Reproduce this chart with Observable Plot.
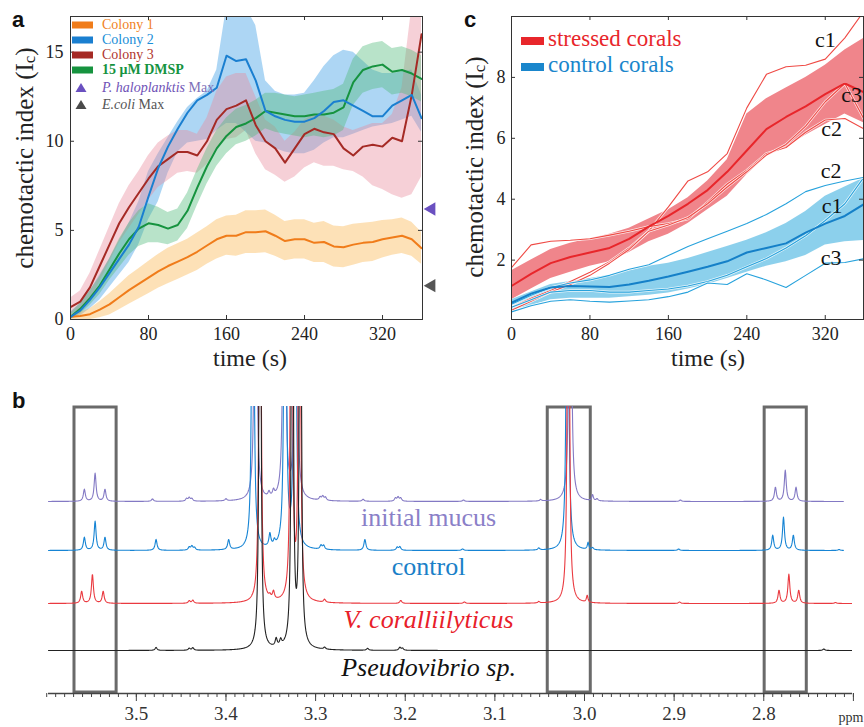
<!DOCTYPE html>
<html>
<head>
<meta charset="utf-8">
<script src="https://cdn.jsdelivr.net/npm/d3@7"></script>
<script src="https://cdn.jsdelivr.net/npm/@observablehq/plot@0.6"></script>
<style>
  html,body{margin:0;padding:0;background:#fff;}
  #wrap{position:relative;width:864px;height:727px;overflow:hidden;background:#fff;}
  #wrap svg{position:absolute;}
</style>
</head>
<body>
<div id="wrap"></div>
<script>
// ================= PANEL a : chemotactic index vs time =================
const timeA = [0,10,20,30,40,50,60,70,80,90,100,110,120,130,140,150,160,170,180,190,200,210,220,230,240,250,260,270,280,290,300,310,320,330,340,350,360];
const colony1Mean  = [0.15,0.2,0.3,0.55,0.85,1.25,1.65,2.0,2.35,2.7,3.0,3.25,3.5,3.8,4.15,4.5,4.7,4.7,4.9,4.9,4.95,4.7,4.4,4.5,4.5,4.3,4.35,4.1,4.05,4.2,4.3,4.35,4.5,4.6,4.7,4.5,4.0];
const colony1Lower = [0.0,0.0,0.0,0.1,0.25,0.55,0.85,1.15,1.45,1.75,2.0,2.25,2.5,2.75,3.1,3.4,3.6,3.55,3.7,3.7,3.75,3.55,3.3,3.4,3.4,3.2,3.2,2.95,2.9,3.05,3.2,3.25,3.45,3.6,3.7,3.55,3.1];
const colony1Upper = [0.3,0.4,0.6,1.0,1.45,1.95,2.45,2.85,3.25,3.65,4.0,4.25,4.5,4.85,5.2,5.6,5.8,5.85,6.1,6.1,6.15,5.85,5.5,5.6,5.6,5.4,5.5,5.25,5.2,5.35,5.4,5.45,5.55,5.6,5.7,5.45,4.9];
const colony2Mean  = [0.15,0.5,1.1,1.8,2.6,3.4,4.2,5.2,6.9,8.5,9.7,10.7,11.6,12.3,12.6,13.0,14.8,14.5,14.6,13.4,11.7,11.4,11.2,11.1,11.1,11.3,11.7,12.2,12.3,12.0,11.7,11.4,11.4,12.0,12.3,12.6,11.3];
const colony2Lower = [0.0,0.2,0.6,1.1,1.8,2.5,3.2,4.2,5.6,6.6,8.2,9.4,9.9,10.0,10.1,10.6,11.0,11.0,10.5,10.0,9.9,9.6,9.4,9.3,9.3,9.5,9.9,10.2,10.2,10.4,10.6,10.8,10.9,11.0,11.2,11.4,10.5];
const colony2Upper = [0.4,0.9,1.6,2.5,3.4,4.4,5.4,6.6,8.3,9.3,10.2,11.1,11.9,12.4,12.8,14.0,17.5,17.5,17.5,16.5,13.4,12.8,12.6,12.6,12.7,13.4,14.2,14.8,15.1,15.0,14.5,14.0,13.8,13.8,13.9,14.0,12.6];
const colony3Mean  = [0.7,1.0,1.8,3.0,4.2,5.4,6.3,7.1,7.9,8.6,9.0,9.4,9.4,9.2,10.0,11.2,11.8,12.0,12.3,10.9,10.0,9.6,8.8,9.6,10.4,10.7,10.5,10.4,9.6,9.2,9.7,9.8,9.7,10.2,10.0,12.6,16.0];
const colony3Lower = [0.3,0.5,1.1,2.1,3.2,4.3,5.1,5.9,6.7,7.4,7.8,8.2,8.3,8.2,8.7,9.6,10.1,10.2,10.6,9.3,8.4,8.1,7.7,8.0,8.5,8.8,8.6,8.6,8.4,8.3,8.0,7.5,7.3,7.0,6.8,7.0,8.0];
const colony3Upper = [1.2,1.6,2.6,3.9,5.2,6.5,7.5,8.3,9.2,9.9,10.3,10.6,10.6,10.4,11.3,12.8,13.6,13.8,13.8,12.5,11.2,10.8,10.0,10.5,11.2,11.5,11.4,11.2,10.8,10.6,10.8,11.0,11.0,11.5,13.0,17.5,24];
const dmspMean     = [0.15,0.6,1.2,1.9,2.8,3.7,4.5,5.1,5.4,5.3,5.1,5.3,6.1,7.4,8.6,9.6,10.3,10.8,11.0,11.3,11.7,11.6,11.5,11.4,11.4,11.5,11.5,11.6,11.9,13.3,14.0,14.2,14.3,13.9,14.0,13.8,13.5];
const dmspLower    = [0.0,0.3,0.8,1.4,2.2,2.9,3.6,4.1,4.3,4.3,4.2,4.4,5.1,6.4,7.6,8.6,9.3,9.8,10.0,10.3,10.7,10.5,10.4,10.3,10.2,10.3,10.2,10.3,10.6,12.0,12.7,12.9,13.0,12.6,12.7,12.5,12.2];
const dmspUpper    = [0.35,0.9,1.6,2.4,3.4,4.5,5.4,6.1,6.5,6.3,6.0,6.2,7.1,8.4,9.6,10.6,11.3,11.8,12.0,12.3,12.7,12.7,12.6,12.5,12.6,12.7,12.8,12.9,13.2,14.6,15.3,15.5,15.6,15.2,15.3,15.1,14.8];
const haloplanktisMax = 6.2;
const ecoliMax = 1.9;
const ticksAx = [0,80,160,240,320];
const ticksAy = [0,5,10,15];

// ================= PANEL c : stressed vs control corals =================
const timeC = [0,20,40,60,80,100,120,140,160,180,200,220,240,260,280,300,320,340,360];
const stressedMean  = [1.15,1.55,1.9,2.1,2.25,2.4,2.7,3.1,3.45,3.85,4.3,4.9,5.6,6.3,6.7,7.05,7.45,7.8,7.5];
const stressedUpper = [1.65,2.0,2.35,2.55,2.7,2.85,3.05,3.35,3.65,4.05,4.6,5.3,6.8,7.3,7.65,8.0,8.4,8.9,9.3];
const stressedLower = [0.7,1.05,1.4,1.6,1.8,1.95,2.25,2.6,2.85,3.2,3.65,4.1,4.8,5.4,5.7,6.1,6.45,6.8,6.5];
const stressedC1 = [0.45,0.75,1.0,1.3,1.6,1.95,2.4,2.95,3.75,4.6,4.9,5.5,7.0,8.1,8.35,8.4,8.6,9.3,10.2];
const stressedC2 = [1.75,2.5,2.62,2.65,2.7,2.82,2.95,3.1,3.2,3.35,3.9,4.5,4.95,5.5,5.7,6.2,6.6,6.65,6.3];
const stressedC3 = [0.35,0.65,0.95,1.2,1.5,1.9,2.35,2.95,3.15,3.4,3.85,4.4,4.9,5.45,5.8,6.4,7.2,7.8,6.6];
const controlMean  = [0.6,0.9,1.1,1.15,1.13,1.12,1.2,1.32,1.46,1.62,1.78,1.96,2.25,2.4,2.55,2.9,3.2,3.45,3.85];
const controlUpper = [0.7,0.95,1.2,1.3,1.4,1.5,1.65,1.8,1.9,2.05,2.25,2.45,2.65,2.9,3.2,3.6,4.1,4.4,4.7];
const controlLower = [0.35,0.5,0.7,0.75,0.75,0.75,0.8,0.85,0.92,1.05,1.2,1.4,1.6,1.8,1.95,2.15,2.5,2.6,2.65];
const controlC1 = [0.45,0.7,0.95,1.0,1.0,0.95,0.95,1.0,1.05,1.15,1.3,1.5,1.78,2.05,2.4,2.8,3.3,3.85,4.75];
const controlC2 = [0.55,0.85,1.1,1.25,1.35,1.5,1.7,1.85,2.15,2.45,2.7,2.95,3.2,3.5,3.85,4.25,4.45,4.6,4.72];
const controlC3 = [0.3,0.5,0.65,0.7,0.65,0.62,0.66,0.7,0.8,0.95,1.25,1.2,1.55,1.35,1.1,1.5,1.9,1.92,2.05];
const coralLabels = ["c1","c3","c2","c2","c1","c3"];
const coralLabelT = [320,347,326.5,326,327,326];
const coralLabelV = [9.24,7.41,6.3,4.93,3.79,2.06];
const ticksCx = [0,80,160,240,320];
const ticksCy = [2,4,6,8];

// ================= PANEL b : 1H NMR spectra (peak lists: ppm, height, half-width) =================
const mucusPeaks = [
 [3.558,12,.0013],[3.546,28,.0013],[3.535,12,.0013],
 [3.482,2.5,.0013],[3.444,2.5,.0013],[3.441,3.5,.0013],[3.438,2.5,.0013],[3.400,2,.0013],
 [3.367,800,.0009],[3.352,5,.0013],[3.347,6,.0013],[3.335,800,.0009],[3.322,800,.0009],
 [3.295,3,.0013],[3.292,4,.0013],[3.289,3,.0013],[3.247,2,.0013],[3.211,3,.0013],[3.208,4,.0013],[3.205,3,.0013],
 [3.135,1.5,.0013],[3.049,1.5,.0013],[3.016,800,.0009],[2.991,6,.0010],[2.986,2,.0013],[2.893,1.5,.0013],
 [2.787,14,.0013],[2.776,31,.0013],[2.764,14,.0013]
];
const controlPeaks = [
 [3.558,13,.0013],[3.546,29,.0013],[3.535,13,.0013],
 [3.478,11,.0013],[3.441,3,.0013],[3.438,4,.0013],[3.435,2.5,.0013],[3.397,10,.0013],
 [3.370,800,.0009],[3.351,13,.0013],[3.346,5,.0013],[3.334,800,.0009],[3.323,800,.0009],
 [3.294,4,.0013],[3.291,4,.0013],[3.245,11,.0013],[3.209,3,.0013],[3.206,3.5,.0013],
 [3.136,1.5,.0013],[3.051,2,.0013],[3.019,800,.0009],[2.996,7,.0010],[2.991,2,.0013],[2.895,1.5,.0013],
 [2.790,15,.0013],[2.778,33,.0013],[2.767,15,.0013],[2.716,1,.0013]
];
const vcorPeaks = [
 [3.561,12,.0013],[3.549,29,.0013],[3.537,12,.0013],
 [3.441,2.5,.0013],[3.437,3,.0013],
 [3.362,800,.0009],[3.351,3,.0013],[3.347,8,.0013],[3.327,800,.0009],[3.318,800,.0009],
 [3.290,3,.0013],[3.205,3,.0013],[3.134,1.5,.0013],[3.051,1.5,.0013],
 [3.018,800,.0009],[2.997,7,.0010],[2.894,1.5,.0013],
 [2.783,13,.0013],[2.772,29,.0013],[2.761,13,.0013],[2.720,1,.0013]
];
const pseudoPeaks = [
 [3.478,3,.0013],[3.441,2,.0013],[3.437,2.5,.0013],
 [3.362,800,.0009],[3.344,8,.0013],[3.339,6,.0013],[3.326,800,.0009],[3.317,800,.0009],
 [3.290,2,.0013],[3.242,2,.0013],[3.206,3,.0013],[3.203,2,.0013],[2.733,1.5,.0013]
];
const traceNames   = ["initial mucus","control","V. coralliilyticus","Pseudovibrio sp."];
const traceColors  = ["#8379c4","#1684d4","#ea3a40","#222222"];
const labelColors  = ["#8a80c8","#1a80c8","#e8202a","#111111"];
const traceItalic  = [false,false,true,true];
const traceOffset  = [191,142,89,42];
const traceEnd     = [2.711,2.711,2.702,2.701];
const labelPpm     = 3.174;
const labelLevel   = [175.3,126.3,73.3,25.3];
const boxFrom = [3.569,3.041,2.799];
const boxTo   = [3.522,2.993,2.752];
const ticksBMajor = [3.5,3.4,3.3,3.2,3.1,3.0,2.9,2.8,2.7];

// ================= rendering =================
const SERIF = "Liberation Serif, DejaVu Serif, serif";
const SANS = "Liberation Sans, Arial, sans-serif";
const wrap = document.getElementById("wrap");
function place(svg, left, top){ svg.style.left = left+"px"; svg.style.top = top+"px"; wrap.appendChild(svg); return svg; }

function inwardTicks(xt, yt, xd, yd, xpx, ypx){
  const lx = 4*(yd[1]-yd[0])/ypx, ly = 4*(xd[1]-xd[0])/xpx;
  const s = {stroke:"#333", strokeWidth:1};
  return [
    Plot.ruleX(xt, {x:d=>d, y1:yd[0], y2:yd[0]+lx, ...s}),
    Plot.ruleX(xt, {x:d=>d, y1:yd[1], y2:yd[1]-lx, ...s}),
    Plot.ruleY(yt, {y:d=>d, x1:xd[0], x2:xd[0]+ly, ...s}),
    Plot.ruleY(yt, {y:d=>d, x1:xd[1], x2:xd[1]-ly, ...s})
  ];
}

// ---- panel a
const bandA = (mean, lo, hi) => timeA.map((t,i)=>({t, m:mean[i], lo:lo[i], hi:hi[i]}));
const A1 = bandA(colony1Mean, colony1Lower, colony1Upper), A2 = bandA(colony2Mean, colony2Lower, colony2Upper),
      A3 = bandA(colony3Mean, colony3Lower, colony3Upper), AD = bandA(dmspMean, dmspLower, dmspUpper);
const xdA = [0,361], ydA = [0,17];
const svgA = Plot.plot({
  width:440, height:380, marginLeft:70, marginRight:18, marginTop:16, marginBottom:61,
  x:{domain:xdA}, y:{domain:ydA},
  style:{fontFamily:SERIF, fontSize:"18px", color:"#222", background:"transparent", overflow:"visible"},
  marks:[
    Plot.areaY(A2, {x:"t", y1:"lo", y2:"hi", fill:"#4aa3e6", fillOpacity:0.45, clip:true}),
    Plot.areaY(A3, {x:"t", y1:"lo", y2:"hi", fill:"#e8899a", fillOpacity:0.4, clip:true}),
    Plot.areaY(AD, {x:"t", y1:"lo", y2:"hi", fill:"#4db877", fillOpacity:0.4, clip:true}),
    Plot.areaY(A1, {x:"t", y1:"lo", y2:"hi", fill:"#fbb54a", fillOpacity:0.4, clip:true}),
    Plot.line(A1, {x:"t", y:"m", stroke:"#f07c1a", strokeWidth:2, clip:true}),
    Plot.line(AD, {x:"t", y:"m", stroke:"#16933f", strokeWidth:2, clip:true}),
    Plot.line(A3, {x:"t", y:"m", stroke:"#a52a25", strokeWidth:2, clip:true}),
    Plot.line(A2, {x:"t", y:"m", stroke:"#1a7fd0", strokeWidth:2, clip:true}),
    Plot.frame({stroke:"#333", strokeWidth:1}),
    ...inwardTicks(ticksAx, ticksAy, xdA, ydA, 352, 303),
    Plot.axisX({ticks:ticksAx, tickSize:0, tickPadding:8, label:null}),
    Plot.axisY({ticks:ticksAy, tickSize:0, tickPadding:7, label:null}),
    Plot.dot([haloplanktisMax], {y:d=>d, frameAnchor:"right", dx:9, symbol:"triangle", r:5, rotate:-90, fill:"#6a50c0"}),
    Plot.dot([ecoliMax], {y:d=>d, frameAnchor:"right", dx:9, symbol:"triangle", r:5, rotate:-90, fill:"#555"})
  ]
});
place(svgA, 0, 0);

// ---- panel c
const rowsC = (arr) => timeC.map((t,i)=>({t, v:arr[i]}));
const bandC = (lo, hi) => timeC.map((t,i)=>({t, lo:lo[i], hi:hi[i]}));
const xdC = [0,359], ydC = [0.05,10];
const thin = (arr, color) => [
  Plot.line(rowsC(arr), {x:"t", y:"v", stroke:"#fff", strokeWidth:2.6, strokeOpacity:0.8, clip:true}),
  Plot.line(rowsC(arr), {x:"t", y:"v", stroke:color, strokeWidth:1.1, clip:true})
];
const svgC = Plot.plot({
  width:434, height:380, marginLeft:81, marginRight:1, marginTop:16, marginBottom:61,
  x:{domain:xdC}, y:{domain:ydC},
  style:{fontFamily:SERIF, fontSize:"18px", color:"#222", background:"transparent", overflow:"visible"},
  marks:[
    Plot.areaY(bandC(stressedLower, stressedUpper), {x:"t", y1:"lo", y2:"hi", fill:"#f0858b", clip:true}),
    Plot.areaY(bandC(controlLower, controlUpper), {x:"t", y1:"lo", y2:"hi", fill:"#86cdeb", fillOpacity:0.95, clip:true}),
    ...thin(stressedC1, "#ef4a45"), ...thin(stressedC2, "#ef4a45"), ...thin(stressedC3, "#ef4a45"),
    ...thin(controlC1, "#27a2dc"), ...thin(controlC2, "#27a2dc"), ...thin(controlC3, "#27a2dc"),
    Plot.line(rowsC(stressedMean), {x:"t", y:"v", stroke:"#e8262b", strokeWidth:2, clip:true}),
    Plot.line(rowsC(controlMean), {x:"t", y:"v", stroke:"#1580c8", strokeWidth:2, clip:true}),
    Plot.frame({stroke:"#333", strokeWidth:1}),
    ...inwardTicks(ticksCx, ticksCy, xdC, ydC, 352, 303),
    Plot.axisX({ticks:ticksCx, tickSize:0, tickPadding:8, label:null}),
    Plot.axisY({ticks:ticksCy, tickSize:0, tickPadding:6, label:null}),
    Plot.text(coralLabels.map((s,i)=>({s, t:coralLabelT[i], v:coralLabelV[i]})),
      {x:"t", y:"v", text:"s", fontSize:22, fill:"#111", fontFamily:SERIF})
  ]
});
place(svgC, 430, 0);

// ---- panel b
function trace(peaks, offset, from, to){
  const pts = [];
  for (let x = from; x >= to - 1e-9; x -= 0.0004){
    let y = offset;
    for (const [p,h,g] of peaks) y += h*g*g/((x-p)*(x-p)+g*g);
    pts.push({ppm:x, y});
  }
  return pts;
}
const peakSets = [mucusPeaks, controlPeaks, vcorPeaks, pseudoPeaks];
const traces = peakSets.map((p,i)=>trace(p, traceOffset[i], 3.598, traceEnd[i]));
const minorTicks = d3.range(270, 361).map(i=>i/100);
const svgB = Plot.plot({
  width:864, height:347, marginLeft:48, marginRight:12, marginTop:26, marginBottom:35,
  x:{domain:[3.598, 2.701]}, y:{domain:[0,286], axis:null},
  style:{fontFamily:SERIF, fontSize:"18px", color:"#333", background:"transparent", overflow:"visible"},
  marks:[
    Plot.rect(boxFrom.map((f,i)=>({f, t:boxTo[i]})), {x1:"f", x2:"t", y1:0, y2:285, fill:"none", stroke:"#6a6a6a", strokeWidth:3}),
    ...traces.map((tr,i)=>Plot.line(tr, {x:"ppm", y:"y", stroke:traceColors[i], strokeWidth:1.1, clip:true})),
    ...traceNames.map((n,i)=>Plot.text([n], {x:labelPpm, y:labelLevel[i], text:d=>d, fill:labelColors[i], fontSize:26, fontStyle:traceItalic[i]?"italic":"normal", fontFamily:SERIF})),
    Plot.ruleY([0], {stroke:"#444", strokeWidth:1.5, dy:1}),
    Plot.axisX({ticks:minorTicks, tickSize:4, tickFormat:()=>"", label:null, stroke:"#444", dy:1}),
    Plot.axisX({ticks:ticksBMajor, tickSize:8, tickPadding:5, label:null, stroke:"#444", dy:1,
      tickFormat:d=>Math.abs(d-2.7)<1e-9 ? "" : d.toFixed(1), fontSize:19}),
    Plot.text(["ppm"], {x:2.7, frameAnchor:"bottom", dy:29, dx:10, textAnchor:"end", fontSize:14, fill:"#333"})
  ]
});
place(svgB, 0, 380);

// ---- annotations (legends, axis titles, panel letters)
function ylab(svg, x, y){
  const t = d3.select(svg).append("text")
    .attr("transform", `translate(${x},${y}) rotate(-90)`).attr("text-anchor","middle")
    .attr("font-family", SERIF).attr("font-size", 25).attr("fill","#222");
  t.append("tspan").text("chemotactic index (I");
  t.append("tspan").text("c").attr("font-size", 17).attr("dy", 2);
  t.append("tspan").text(")").attr("dy", -2);
}
function xlab(svg, x, y){
  d3.select(svg).append("text").attr("x",x).attr("y",y).attr("text-anchor","middle")
    .attr("font-family", SERIF).attr("font-size", 24).attr("fill","#222").text("time (s)");
}
function letter(svg, x, y, s){
  d3.select(svg).append("text").attr("x",x).attr("y",y).attr("text-anchor","start").attr("font-family",SANS)
    .attr("font-weight","bold").attr("font-size",22).attr("fill","#111").text(s);
}
ylab(svgA, 33, 158); xlab(svgA, 250, 366); letter(svgA, 12, 27, "a");
ylab(svgC, 53, 167); xlab(svgC, 278, 366); letter(svgC, 34, 27, "c");
letter(svgB, 12, 28, "b");

// legend a
const legA = d3.select(svgA).append("g").attr("font-family", SERIF).attr("font-size", 14).attr("text-anchor","start");
const legItems = [["Colony 1","#f07c1a","#f0821e",false],["Colony 2","#1a7fd0","#1a8ed8",false],["Colony 3","#a52a25","#b0362e",false],["15 μM DMSP","#16933f","#16933f",true]];
legItems.forEach(([lab, sw, tc, bold], i) => {
  const y = 29 + 15*i;
  legA.append("rect").attr("x",72).attr("y",y-7.5).attr("width",21).attr("height",7).attr("fill",sw);
  legA.append("text").attr("x",102).attr("y",y).attr("fill",tc).attr("font-weight", bold?"bold":"normal").text(lab);
});
[["P. haloplanktis"," Max","#6a50c0","#6f52b6","#7d70b8",92],["E.coli"," Max","#4a4a4a","#555","#555",109]].forEach(([it, rest, tri, c1, c2, y])=>{
  legA.append("path").attr("d",`M81,${y-9}L86.5,${y}L75.5,${y}Z`).attr("fill",tri);
  const t = legA.append("text").attr("x",102).attr("y",y);
  t.append("tspan").attr("font-style","italic").attr("fill",c1).text(it);
  t.append("tspan").attr("fill",c2).text(rest);
});

// legend c
const legC = d3.select(svgC).append("g").attr("font-family", SERIF).attr("font-size", 23).attr("text-anchor","start");
[["stressed corals","#e8262b",46],["control corals","#1a86cc",72]].forEach(([lab,c,y])=>{
  legC.append("rect").attr("x",91).attr("y",y-9).attr("width",23).attr("height",8).attr("fill",c);
  legC.append("text").attr("x",118).attr("y",y).attr("fill",c).text(lab);
});
</script>
</body>
</html>
